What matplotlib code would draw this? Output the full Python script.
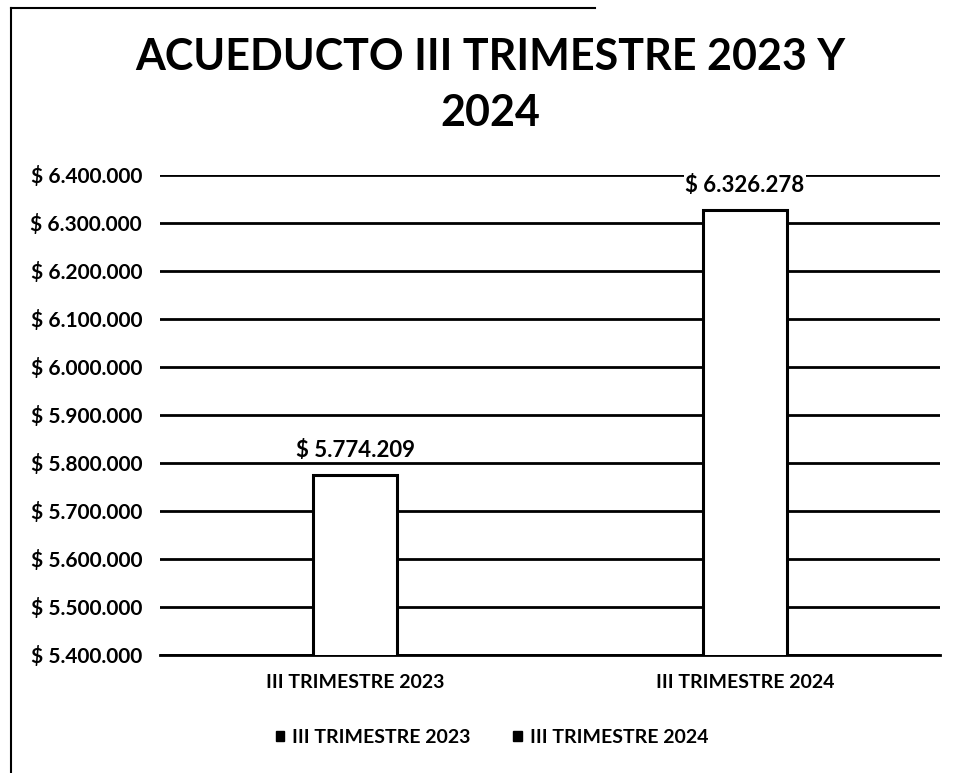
import matplotlib
matplotlib.use("Agg")
import matplotlib.pyplot as plt
from matplotlib.lines import Line2D
from matplotlib.patches import Patch

categories = ["III TRIMESTRE 2023", "III TRIMESTRE 2024"]
values = [5774209, 6326278]
value_labels = ["$ 5.774.209", "$ 6.326.278"]
yticks = [5400000, 5500000, 5600000, 5700000, 5800000, 5900000,
          6000000, 6100000, 6200000, 6300000, 6400000]

def fmt(v):
    s = f"{v:,.0f}".replace(",", ".")
    return f"$ {s}"

plt.rcParams['font.family'] = ['Lato', 'DejaVu Sans']

fig = plt.figure(figsize=(9.59, 7.73), dpi=100)
ax = fig.add_axes([0.167, 0.1527, 0.813, 0.621])

x = [0, 1]
ax.bar(x, values, width=0.215, color="white", edgecolor="black", linewidth=2.2, zorder=3)
ax.set_xlim(-0.5, 1.5)
ax.set_ylim(5400000, 6400000)
ax.set_yticks(yticks)
ax.set_yticklabels([fmt(v) for v in yticks], fontsize=15, fontweight="bold")
ax.set_xticks(x)
ax.set_xticklabels(categories, fontsize=14, fontweight="bold")
ax.tick_params(axis="y", length=0, pad=13)
ax.tick_params(axis="x", length=0, pad=14)
ax.yaxis.grid(True, color="black", linewidth=2)
ax.set_axisbelow(True)
for s in ["top", "right", "left"]:
    ax.spines[s].set_visible(False)
ax.spines["bottom"].set_linewidth(2)

for xi, v, lab in zip(x, values, value_labels):
    ax.text(xi, v + 52000, lab, ha="center", va="center", fontsize=16,
            fontweight="bold", zorder=4,
            bbox=dict(facecolor="white", edgecolor="none", pad=1))

fig.text(0.511, 0.890, "ACUEDUCTO III TRIMESTRE 2023 Y\n2024", ha="center", va="center",
         fontsize=31, fontweight="bold", linespacing=1.5)

handles = [Patch(facecolor="black", edgecolor="black"),
           Patch(facecolor="black", edgecolor="black")]
fig.legend(handles, categories, loc="center", bbox_to_anchor=(0.513, 0.046), ncol=2,
           frameon=False, prop={"weight": "bold", "size": 14},
           handlelength=0.45, handleheight=0.45, handletextpad=0.4, columnspacing=2.2)

# figure frame (left and top edges)
fig.add_artist(Line2D([0.011, 0.011], [0.0, 0.99], color="black", linewidth=1.5))
fig.add_artist(Line2D([0.011, 0.62], [0.99, 0.99], color="black", linewidth=1.5))

fig.savefig("out.png", dpi=100)
